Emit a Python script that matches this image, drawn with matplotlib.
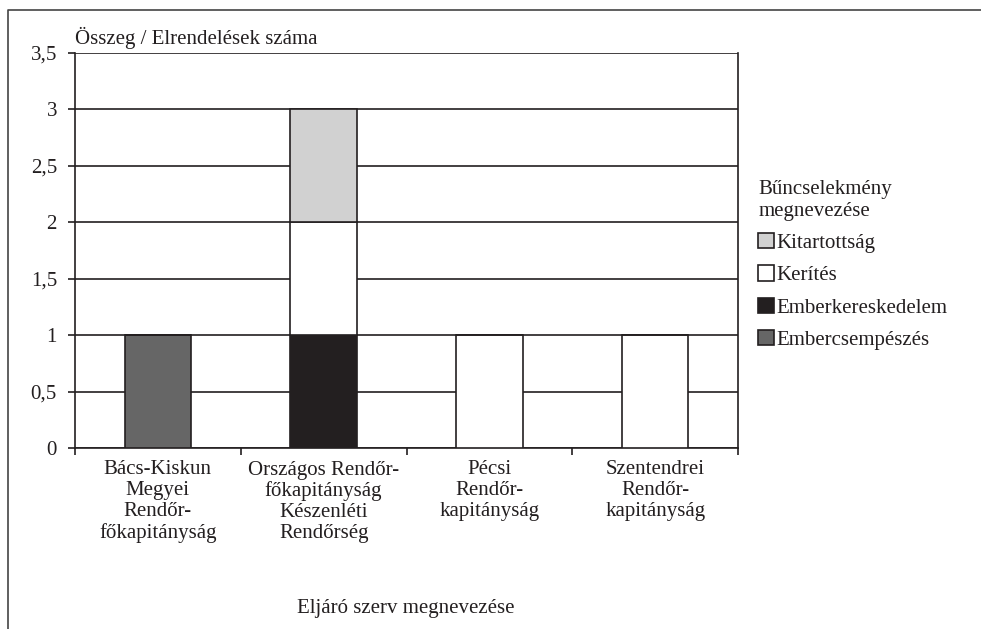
import matplotlib
matplotlib.use("Agg")
import matplotlib.pyplot as plt
import numpy as np
from matplotlib.lines import Line2D

plt.rcParams['font.family'] = ['Liberation Serif', 'DejaVu Serif']

# data
categories = ['Bács-Kiskun\nMegyei\nRendőr-\nfőkapitányság',
              'Országos Rendőr-\nfőkapitányság\nKészenléti\nRendőrség',
              'Pécsi\nRendőr-\nkapitányság',
              'Szentendrei\nRendőr-\nkapitányság']
embercsempeszes = [1, 0, 0, 0]
emberkereskedelem = [0, 1, 0, 0]
kerites = [0, 1, 1, 1]
kitartottsag = [0, 1, 0, 0]

ink = '#231f20'
fs = 15
fig = plt.figure(figsize=(9.81, 6.29), dpi=100)
ax = fig.add_axes([75/981, 1 - 448/629, (738 - 75)/981, (448 - 53)/629])

x = np.arange(len(categories))
w = 0.4
bottom = np.zeros(len(categories))
series = [('Embercsempészés', embercsempeszes, '#666666'),
          ('Emberkereskedelem', emberkereskedelem, ink),
          ('Kerítés', kerites, 'white'),
          ('Kitartottság', kitartottsag, '#d1d1d1')]
bars = {}
for name, vals, col in series:
    vals = np.array(vals, dtype=float)
    bars[name] = ax.bar(x, vals, w, bottom=bottom, color=col, edgecolor=ink,
                        linewidth=1.2, label=name, zorder=3)
    bottom += vals

ax.set_xlim(-0.5, len(categories) - 0.5)
ax.set_ylim(0, 3.5)
yt = np.arange(0, 3.51, 0.5)
ax.set_yticks(yt)
ax.set_yticklabels([('%g' % v).replace('.', ',') for v in yt])
ax.yaxis.grid(True, color=ink, linewidth=1.2)
ax.set_axisbelow(True)

ax.set_xticks(x)
ax.set_xticklabels(categories, linespacing=1.12)
ax.set_xticks(np.arange(-0.5, len(categories), 1), minor=True)
ax.tick_params(axis='x', which='major', length=0, pad=9, labelsize=fs, colors=ink)
ax.tick_params(axis='x', which='minor', length=5, width=1.2, color=ink, direction='out')
ax.tick_params(axis='y', length=5, width=1.2, color=ink, pad=8, labelsize=fs, labelcolor=ink)

ax.spines['top'].set_visible(False)
for s in ['left', 'right', 'bottom']:
    ax.spines[s].set_color(ink)
    ax.spines[s].set_linewidth(1.2)

fig.text(75/981, 1 - 38/629, 'Összeg / Elrendelések száma', fontsize=fs,
         color=ink, va='center', ha='left')
fig.text(406/981, 1 - 608/629, 'Eljáró szerv megnevezése', fontsize=fs,
         color=ink, va='center', ha='center')

handles = [bars['Kitartottság'], bars['Kerítés'], bars['Emberkereskedelem'],
           bars['Embercsempészés']]
labels = ['Kitartottság', 'Kerítés', 'Emberkereskedelem', 'Embercsempészés']
leg = fig.legend(handles, labels, title='Bűncselekmény\nmegnevezése',
                 loc='upper left', bbox_to_anchor=(748/981, 1 - 170/629),
                 frameon=False, fontsize=fs, title_fontsize=fs,
                 handlelength=0.75, handleheight=0.75, handletextpad=0.1,
                 labelspacing=0.6, alignment='left', borderpad=0)
for t in leg.get_texts():
    t.set_color(ink)
leg.get_title().set_color(ink)
leg.get_title().set_linespacing(1.15)

# outer frame: only left and top edges are visible
frame_x = [8/981, 8/981, 1.0]
frame_y = [0, 1 - 10/629, 1 - 10/629]
fig.add_artist(Line2D(frame_x, frame_y, transform=fig.transFigure,
                      color='#444444', linewidth=1.2))

fig.savefig('out.png', dpi=100)
